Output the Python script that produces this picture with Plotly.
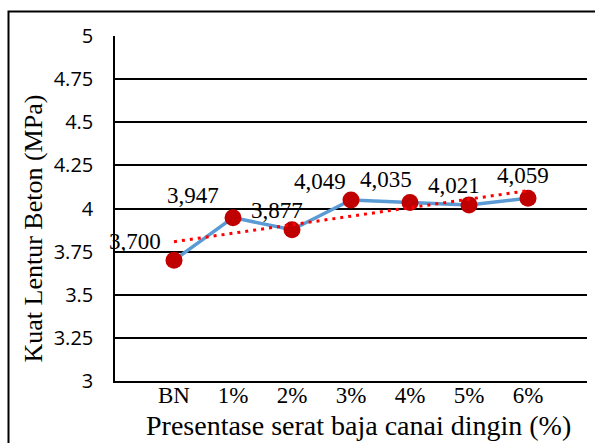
import numpy as np
import plotly.graph_objects as go

categories = ["BN", "1%", "2%", "3%", "4%", "5%", "6%"]
values = [3.700, 3.947, 3.877, 4.049, 4.035, 4.021, 4.059]
value_labels = ["3,700", "3,947", "3,877", "4,049", "4,035", "4,021", "4,059"]
y_tickvals = [3, 3.25, 3.5, 3.75, 4, 4.25, 4.5, 4.75, 5]
y_ticktext = ["3", "3.25", "3.5", "3.75", "4", "4.25", "4.5", "4.75", "5"]

# label offsets (px) relative to each point
label_dx = [-39, -40, -15, -31, -24, -15, -5]
label_dy = [19, 22, 19, 19, 23, 19, 23]

xs = list(range(len(categories)))
slope, intercept = np.polyfit(xs, values, 1)
trend_x = [xs[0], xs[-1]]
trend_y = [intercept + slope * x for x in trend_x]

SERIF = "Liberation Serif"

fig = go.Figure()
fig.add_trace(go.Scatter(
    x=xs, y=values, mode="lines+markers",
    line=dict(color="#5B9BD5", width=3.5),
    marker=dict(color="#C00000", size=17),
    showlegend=False, hoverinfo="skip",
))
fig.add_trace(go.Scatter(
    x=trend_x, y=trend_y, mode="lines",
    line=dict(color="#FF0000", width=3, dash="3px,5px"),
    showlegend=False, hoverinfo="skip",
))

annotations = []
for x, v, t, dx, dy in zip(xs, values, value_labels, label_dx, label_dy):
    annotations.append(dict(
        x=x, y=v, text=t, showarrow=False, xanchor="center", yanchor="middle",
        xshift=dx, yshift=dy, font=dict(family=SERIF, size=23, color="black"),
    ))
annotations.append(dict(
    x=-0.1737, y=0.442, xref="paper", yref="paper", text="Kuat Lentur Beton (MPa)",
    textangle=-90, showarrow=False, xanchor="center", yanchor="middle",
    font=dict(family=SERIF, size=26, color="black"),
))
annotations.append(dict(
    x=0.516, y=-0.128, xref="paper", yref="paper",
    text="Presentase serat baja canai dingin (%)",
    showarrow=False, xanchor="center", yanchor="middle",
    font=dict(family=SERIF, size=28, color="black"),
))

fig.update_layout(
    width=595, height=443,
    margin=dict(l=115, r=8, t=36, b=62),
    paper_bgcolor="white", plot_bgcolor="white",
    annotations=annotations,
    shapes=[dict(
        type="rect", xref="paper", yref="paper",
        x0=(8.5 - 115) / 472, x1=1.03, y0=-0.2, y1=1 + (36 - 11.5) / 345,
        line=dict(color="black", width=2), layer="above",
    )],
    xaxis=dict(
        range=[-1, 7], tickvals=xs, ticktext=categories, showgrid=False,
        zeroline=False, showline=True, linecolor="black", linewidth=1.5,
        ticks="", ticklabelstandoff=-7,
        tickfont=dict(family=SERIF, size=23, color="black"),
    ),
    yaxis=dict(
        range=[3, 5], tickvals=y_tickvals, ticktext=y_ticktext,
        showgrid=True, gridcolor="black", gridwidth=1.5, zeroline=False,
        showline=True, linecolor="black", linewidth=1.5, ticks="",
        ticklabelstandoff=16,
        tickfont=dict(family="Open Sans", size=20, color="black"),
    ),
)

fig.write_html(
    "out.html",
    config={"displayModeBar": False},
    post_script="document.body.style.margin='0';document.body.style.overflow='hidden';",
)
